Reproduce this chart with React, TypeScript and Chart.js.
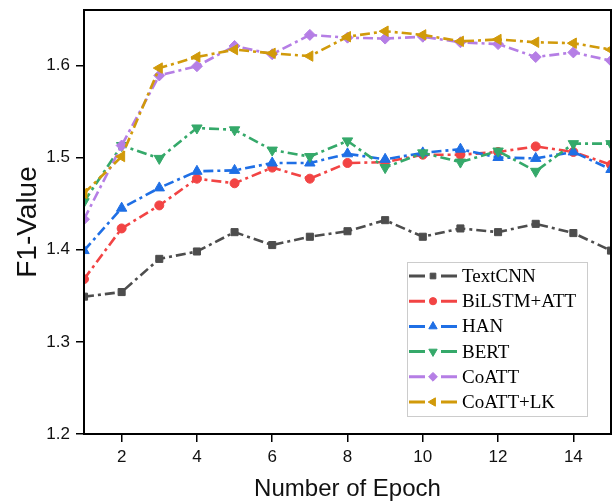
import React, { useEffect, useRef } from 'react';
import { Chart, registerables } from 'chart.js';
import { drawPoint } from 'chart.js/helpers';

Chart.register(...registerables);

const EPOCHS = [1, 2, 3, 4, 5, 6, 7, 8, 9, 10, 11, 12, 13, 14, 15];
const X_TICKS = [2, 4, 6, 8, 10, 12, 14];
const Y_TICKS = [1.2, 1.3, 1.4, 1.5, 1.6];

const SERIES_NAMES = ['TextCNN', 'BiLSTM+ATT', 'HAN', 'BERT', 'CoATT', 'CoATT+LK'];

const TEXTCNN = [1.349, 1.354, 1.390, 1.398, 1.419, 1.405, 1.414, 1.420, 1.432, 1.414, 1.423, 1.419, 1.428, 1.418, 1.399];
const BILSTM_ATT = [1.368, 1.423, 1.448, 1.477, 1.472, 1.489, 1.477, 1.494, 1.495, 1.503, 1.503, 1.506, 1.512, 1.506, 1.492];
const HAN = [1.399, 1.445, 1.467, 1.485, 1.486, 1.494, 1.494, 1.504, 1.498, 1.505, 1.509, 1.500, 1.499, 1.506, 1.487];
const BERT = [1.452, 1.513, 1.499, 1.532, 1.530, 1.508, 1.501, 1.518, 1.489, 1.505, 1.495, 1.507, 1.485, 1.515, 1.515];
const COATT = [1.433, 1.513, 1.589, 1.599, 1.621, 1.612, 1.633, 1.630, 1.629, 1.631, 1.625, 1.623, 1.609, 1.614, 1.605];
const COATT_LK = [1.461, 1.501, 1.597, 1.609, 1.617, 1.613, 1.610, 1.631, 1.637, 1.633, 1.626, 1.628, 1.625, 1.624, 1.617];

const SERIES_VALUES = [TEXTCNN, BILSTM_ATT, HAN, BERT, COATT, COATT_LK];
const COLORS = ['#4d4d4d', '#f24444', '#1f6fe5', '#35a96a', '#b57ee5', '#d19a0a'];
const POINT_STYLES = ['rect', 'circle', 'triangle', 'triangle', 'rectRot', 'triangle'];
const POINT_ROTATIONS = [0, 0, 0, 180, 0, 270];
const POINT_RADII = [5, 4.5, 6, 6, 5.5, 6];

const zeroPadding = (s: any) => {
  s.paddingTop = 0;
  s.paddingBottom = 0;
  s.paddingLeft = 0;
  s.paddingRight = 0;
};

const framePlugin = {
  id: 'frameAndLegend',
  afterDraw(chart: any) {
    const ctx = chart.ctx;
    const a = chart.chartArea;
    ctx.save();
    // frame
    ctx.strokeStyle = '#000';
    ctx.lineWidth = 2;
    ctx.strokeRect(a.left, a.top, a.right - a.left, a.bottom - a.top);

    // legend
    const bx = 407, by = 262, bw = 180, bh = 154;
    ctx.fillStyle = '#fff';
    ctx.fillRect(bx, by, bw, bh);
    ctx.strokeStyle = '#cccccc';
    ctx.lineWidth = 1;
    ctx.strokeRect(bx + 0.5, by + 0.5, bw, bh);
    SERIES_NAMES.forEach((name, i) => {
      const cy = 276 + i * 25.2;
      ctx.strokeStyle = COLORS[i];
      ctx.lineWidth = 3;
      ctx.setLineDash([]);
      ctx.beginPath();
      ctx.moveTo(409, cy);
      ctx.lineTo(425, cy);
      ctx.moveTo(441, cy);
      ctx.lineTo(457, cy);
      ctx.stroke();
      ctx.fillStyle = COLORS[i];
      ctx.strokeStyle = COLORS[i];
      ctx.lineWidth = 1;
      drawPoint(ctx, { pointStyle: POINT_STYLES[i], radius: POINT_RADII[i] * 0.8, rotation: POINT_ROTATIONS[i], borderWidth: 1 } as any, 433, cy);
      ctx.fillStyle = '#000';
      ctx.font = '19px "Liberation Serif", "Times New Roman", serif';
      ctx.textAlign = 'left';
      ctx.textBaseline = 'middle';
      ctx.fillText(name, 462, cy + 1);
    });

    // axis titles
    ctx.fillStyle = '#111';
    ctx.textAlign = 'center';
    ctx.textBaseline = 'middle';
    ctx.font = '24px "Liberation Sans", Arial, sans-serif';
    ctx.fillText('Number of Epoch', (a.left + a.right) / 2, 489);
    ctx.translate(28, (a.top + a.bottom) / 2);
    ctx.rotate(-Math.PI / 2);
    ctx.font = '28px "Liberation Sans", Arial, sans-serif';
    ctx.fillText('F1-Value', 0, 0);
    ctx.restore();
  },
};

export default function App() {
  const canvasRef = useRef<HTMLCanvasElement | null>(null);

  useEffect(() => {
    if (!canvasRef.current) return;
    const datasets = SERIES_NAMES.map((name, i) => ({
      label: name,
      data: EPOCHS.map((x, j) => ({ x, y: SERIES_VALUES[i][j] })),
      borderColor: COLORS[i],
      backgroundColor: COLORS[i],
      borderWidth: 2.6,
      borderDash: [10, 4, 3, 4],
      borderCapStyle: 'butt' as const,
      pointStyle: POINT_STYLES[i],
      pointRotation: POINT_ROTATIONS[i],
      pointRadius: POINT_RADII[i],
      pointBorderWidth: 1,
      pointBackgroundColor: COLORS[i],
      pointBorderColor: COLORS[i],
      tension: 0,
      order: SERIES_NAMES.length - i,
    }));

    const chart = new Chart(canvasRef.current, {
      type: 'line',
      data: { datasets },
      options: {
        animation: false,
        responsive: false,
        devicePixelRatio: 1,
        layout: { autoPadding: false, padding: { left: 0, top: 10, right: 2, bottom: 0 } },
        plugins: { legend: { display: false }, tooltip: { enabled: false } },
        scales: {
          x: {
            type: 'linear',
            min: 1,
            max: 15,
            afterBuildTicks: (s: any) => {
              s.ticks = X_TICKS.map((v) => ({ value: v }));
            },
            afterFit: (s: any) => {
              s.height = 70;
              zeroPadding(s);
            },
            grid: { drawOnChartArea: false, drawTicks: true, tickLength: 8, color: '#000', lineWidth: 1.5 },
            border: { display: false },
            ticks: {
              padding: 5,
              autoSkip: false,
              maxRotation: 0,
              color: '#111',
              font: { family: '"Liberation Sans", Arial, sans-serif', size: 17 },
              callback: (v: any) => String(v),
            },
          },
          y: {
            type: 'linear',
            min: 1.2,
            max: 1.66,
            afterBuildTicks: (s: any) => {
              s.ticks = Y_TICKS.map((v) => ({ value: v }));
            },
            afterFit: (s: any) => {
              s.width = 84;
              zeroPadding(s);
            },
            grid: { drawOnChartArea: false, drawTicks: true, tickLength: 8, color: '#000', lineWidth: 1.5 },
            border: { display: false },
            ticks: {
              padding: 6,
              color: '#111',
              font: { family: '"Liberation Sans", Arial, sans-serif', size: 17 },
              callback: (v: any) => Number(v).toFixed(1),
            },
          },
        },
      },
      plugins: [framePlugin],
    });
    return () => chart.destroy();
  }, []);

  return (
    <div style={{ position: 'absolute', left: 0, top: 0, width: 613, height: 504, background: '#fff' }}>
      <canvas ref={canvasRef} width={613} height={504} style={{ display: 'block' }} />
    </div>
  );
}
